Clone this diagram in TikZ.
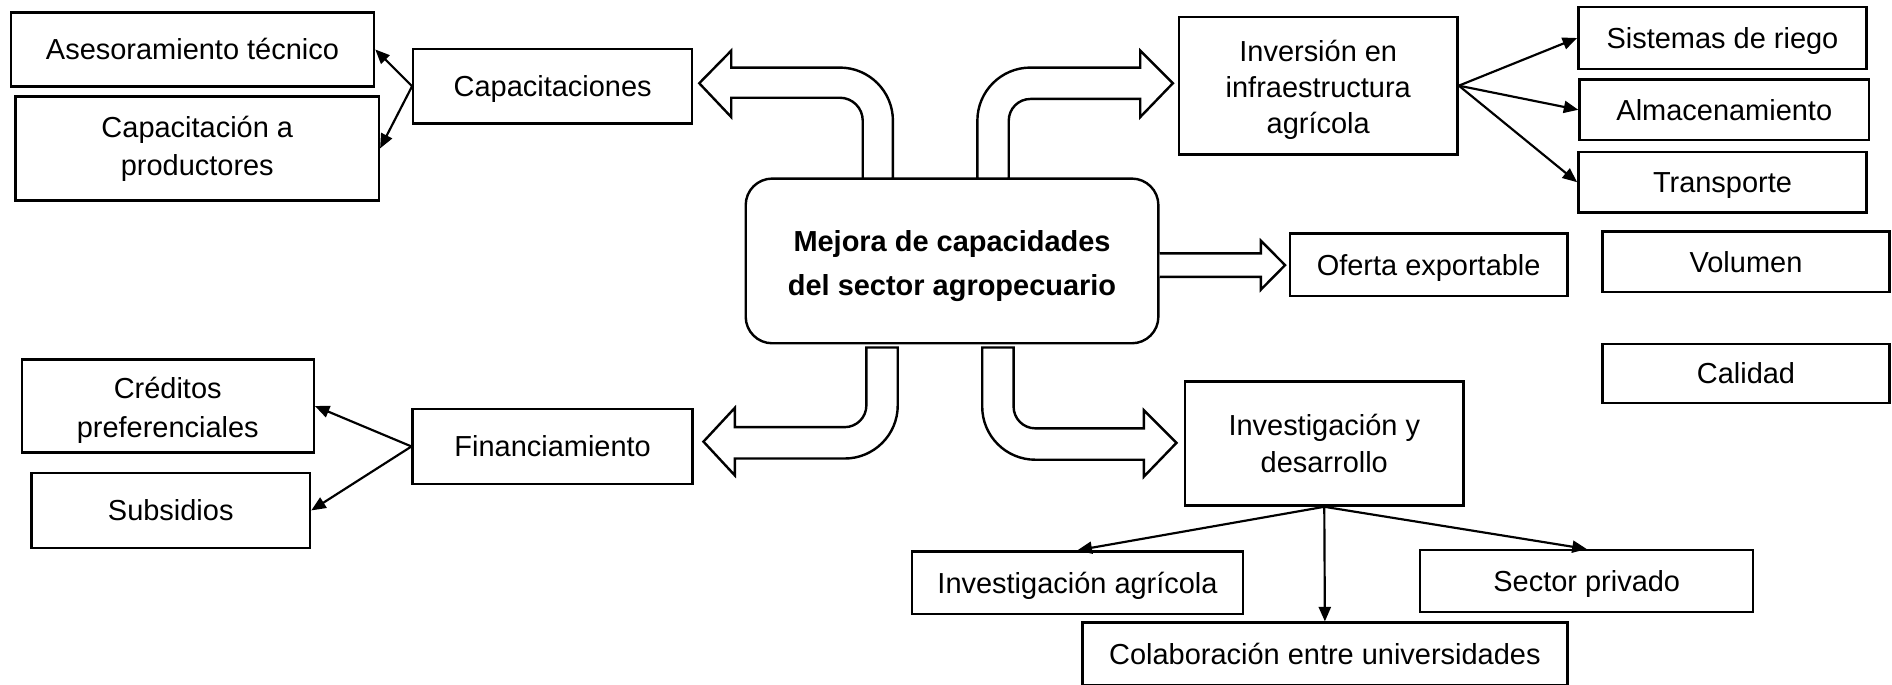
\documentclass[tikz,border=0pt]{standalone}
\usepackage{fontspec}
\setmainfont{Liberation Sans}
\usetikzlibrary{arrows.meta}
\newcommand{\topstrut}{\rule{0pt}{12pt}}
\newcommand{\botstrut}{\rule[-3.4pt]{0pt}{3.4pt}}
\begin{document}
\begin{tikzpicture}[x=0.5pt,y=-0.5pt,
  box/.style={draw,line width=1pt,rectangle,inner sep=0pt,align=center,
    font=\fontsize{12pt}{15.5pt}\selectfont},
  onebox/.style={box,execute at begin node=\topstrut, execute at end node=\botstrut},
  multibox/.style={box,text depth=3pt,text height=#1},
  thinarrow/.style={line width=0.9pt,-{Triangle[length=6pt,width=5pt]}},
  blockarrow/.style={draw,line width=1pt,fill=white,line join=miter}]
\useasboundingbox (0,0) rectangle (1568,567);

% central node
\node[multibox=31.4pt,rounded corners=11pt,minimum width=171pt,minimum height=68.25pt,
  font=\fontsize{12pt}{18pt}\selectfont\bfseries] (central) at (789,216.25)
  {Mejora de capacidades\\del sector agropecuario};

% left side
\node[onebox,minimum width=150.5pt,minimum height=30.75pt] (ases) at (159.5,41) {Asesoramiento técnico};
\node[multibox=25.6pt,minimum width=150.5pt,minimum height=43pt,font=\fontsize{12pt}{16pt}\selectfont] (capprod) at (163.5,123) {Capacitación a\\productores};
\node[onebox,minimum width=115.5pt,minimum height=31pt] (capac) at (458,71.5) {Capacitaciones};
\node[multibox=29.1pt,minimum width=121pt,minimum height=38.5pt,font=\fontsize{12pt}{16pt}\selectfont] (cred) at (139,336.5) {Créditos\\preferenciales};
\node[onebox,minimum width=115.5pt,minimum height=31pt] (subs) at (141.5,423) {Subsidios};
\node[onebox,minimum width=116pt,minimum height=31pt] (fin) at (458,370) {Financiamiento};

% right side
\node[multibox=42.6pt,minimum width=115.5pt,minimum height=57pt,font=\fontsize{12pt}{15pt}\selectfont] (inv) at (1092.5,71) {Inversión en\\infraestructura\\agrícola};
\node[onebox,minimum width=119.5pt,minimum height=25.5pt] (riego) at (1427.5,31.5) {Sistemas de riego};
\node[onebox,minimum width=120pt,minimum height=25pt] (alm) at (1429,91) {Almacenamiento};
\node[onebox,minimum width=119.5pt,minimum height=25pt] (trans) at (1427.5,151) {Transporte};
\node[onebox,minimum width=115pt,minimum height=26pt] (oferta) at (1184,219.5) {Oferta exportable};
\node[onebox,minimum width=119pt,minimum height=25pt] (vol) at (1447,217) {Volumen};
\node[onebox,minimum width=119pt,minimum height=24.5pt] (cal) at (1447,309.5) {Calidad};

% bottom
\node[multibox=27.1pt,minimum width=115.5pt,minimum height=51.5pt] (invdes) at (1097.5,367.5) {Investigación y\\desarrollo};
\node[onebox,minimum width=137pt,minimum height=26pt] (invagr) at (893,483) {Investigación agrícola};
\node[onebox,minimum width=138pt,minimum height=25.5pt] (priv) at (1315,481.5) {Sector privado};
\node[onebox,minimum width=201pt,minimum height=26pt] (colab) at (1098,542) {Colaboración entre universidades};

% thin arrows
\draw[thinarrow] (capac.west) -- (ases.east);
\draw[thinarrow] (capac.west) -- (capprod.east);
\draw[thinarrow] (fin.west) -- (cred.east);
\draw[thinarrow] (fin.west) -- (subs.east);
\draw[thinarrow] (inv.east) -- (riego.west);
\draw[thinarrow] (inv.east) -- (alm.west);
\draw[thinarrow] (inv.east) -- (trans.west);
\draw[thinarrow] (invdes.south) -- (invagr.north);
\draw[thinarrow] (invdes.south) -- (priv.north);
\draw[thinarrow] (invdes.south) -- (colab.north);

% block arrows
% up-left to Capacitaciones
\draw[blockarrow] (715,148) -- (715,100) arc[start angle=0,end angle=90,radius=9.5pt]
  -- (606,81) -- (606,97) -- (579.5,69) -- (606,42) -- (606,56) -- (696,56)
  arc[start angle=90,end angle=0,radius=22pt] -- (740,148) -- cycle;
% up-right to Inversion
\draw[blockarrow] (836,148) -- (836,100) arc[start angle=180,end angle=90,radius=9pt]
  -- (945,82) -- (945,97) -- (972,69) -- (945,42) -- (945,56) -- (854,56)
  arc[start angle=90,end angle=180,radius=22pt] -- (810,148) -- cycle;
% down-left to Financiamiento
\draw[blockarrow] (718,288) -- (718,336) arc[start angle=0,end angle=-90,radius=9pt]
  -- (609,354) -- (609,338) -- (583,366) -- (609,394) -- (609,380) -- (700,380)
  arc[start angle=-90,end angle=0,radius=22pt] -- (744,288) -- cycle;
% down-right to Investigacion y desarrollo
\draw[blockarrow] (840,288) -- (840,337) arc[start angle=180,end angle=270,radius=9pt]
  -- (948,355) -- (948,340) -- (975,367) -- (948,395) -- (948,381) -- (858,381)
  arc[start angle=270,end angle=180,radius=22pt] -- (814,288) -- cycle;
% straight to Oferta
\draw[blockarrow] (central.east |- 0,210) -- (1045,210) -- (1045,199.5) -- (1065,219.75)
  -- (1045,240) -- (1045,229.5) -- (central.east |- 0,229.5);
\end{tikzpicture}
\end{document}
